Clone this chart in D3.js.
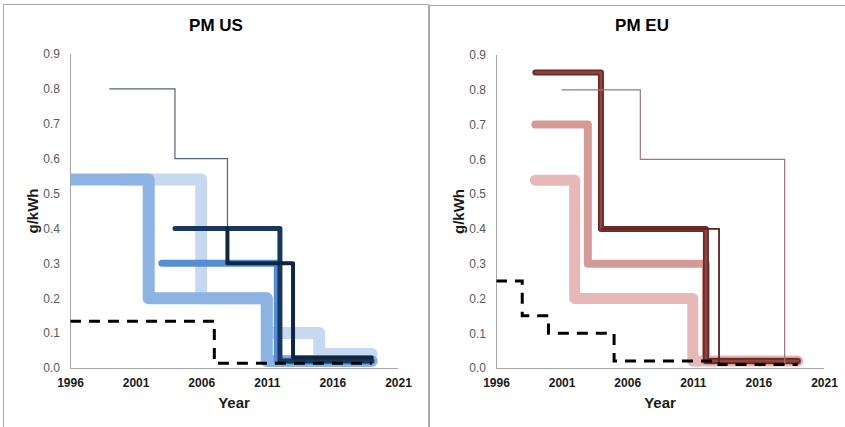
<!DOCTYPE html>
<html><head><meta charset="utf-8">
<script src="https://cdn.jsdelivr.net/npm/d3@7"></script>
<style>
html,body{margin:0;padding:0;background:#fff;}
svg{display:block;font-family:"Liberation Sans",Arial,sans-serif;}
</style></head>
<body>
<svg id="chart" width="845" height="427"></svg>
<script>
// ---- data ----
const titles = ["PM US", "PM EU"];
const yTicks = [0, 0.1, 0.2, 0.3, 0.4, 0.5, 0.6, 0.7, 0.8, 0.9];
const xTicks = [1996, 2001, 2006, 2011, 2016, 2021];
const yLabel = "g/kWh";
const xLabel = "Year";

// US series: [year, g/kWh] step points
const usLightest = [[2000,0.54],[2006,0.54],[2006,0.2],[2011,0.2],[2011,0.1],[2015,0.1],[2015,0.04],[2019,0.04]];
const usLight    = [[1996,0.54],[2002,0.54],[2002,0.2],[2011,0.2],[2011,0.02],[2019,0.02]];
const usMedium   = [[2003,0.3],[2011.8,0.3],[2011.8,0.02],[2019,0.02]];
const usThin     = [[1999,0.8],[2004,0.8],[2004,0.6],[2008,0.6],[2008,0.4]];
const usDarkA    = [[2004,0.4],[2012,0.4],[2012,0.02],[2019,0.02]];
const usDarkB    = [[2008,0.4],[2008,0.3],[2013,0.3],[2013,0.03],[2019,0.03]];
const usDashed   = [[1996,0.134],[2007,0.134],[2007,0.0134],[2019,0.0134]];

// EU series
const euLight    = [[1999,0.54],[2002,0.54],[2002,0.2],[2011,0.2],[2011,0.02],[2019,0.02]];
const euMedium   = [[1999,0.7],[2003,0.7],[2003,0.3],[2012,0.3],[2012,0.02],[2019,0.02]];
const euDark     = [[1999,0.85],[2004,0.85],[2004,0.4],[2012,0.4],[2012,0.02],[2019,0.02]];
const euThin     = [[2001,0.8],[2007,0.8],[2007,0.6],[2018,0.6],[2018,0.01]];
const euThinDark = [[2004,0.4],[2013,0.4],[2013,0.01]];
const euDashed   = [[1996,0.25],[1998,0.25],[1998,0.15],[2000,0.15],[2000,0.1],[2005,0.1],[2005,0.02],[2013,0.02],[2013,0.01],[2019,0.01]];

// ---- styles ----
const panels = [
  {ox:0, frame:{x:3.5,y:4.5,w:425,h:430}, top:54, series:[
    {d:usLightest, c:"#c6d9f1", w:12},
    {d:usLight,    c:"#8db3e2", w:12},
    {d:usMedium,   c:"#558ed5", w:7},
    {d:usThin,     c:"#56647a", w:1.2, cap:"butt", join:"miter"},
    {d:usDarkA,    c:"#17375e", w:5},
    {d:usDarkB,    c:"#10253f", w:4},
    {d:usDashed,   c:"#000000", w:3, dash:"11,8", cap:"butt", join:"miter"}
  ]},
  {ox:426, frame:{x:429.5,y:5.5,w:425,h:430}, top:55, series:[
    {d:euLight,    c:"#e6b9b8", w:11},
    {d:euMedium,   c:"#d49a97", w:8},
    {d:euDark,     c:"#6b2a27", w:6},
    {d:euDark,     c:"#8e4541", w:2.5},
    {d:euThin,     c:"#a07473", w:1.2, cap:"butt", join:"miter"},
    {d:euThinDark, c:"#5c2220", w:1.8, cap:"butt", join:"miter"},
    {d:euDashed,   c:"#000000", w:3, dash:"11,8", cap:"butt", join:"miter"}
  ]}
];

const svg = d3.select("#chart");

panels.forEach((p, i) => {
  const left = 70 + p.ox, right = 398 + p.ox, bottom = 368, top = p.top;
  const g = svg.append("g");

  g.append("rect").attr("x", p.frame.x).attr("y", p.frame.y)
    .attr("width", p.frame.w).attr("height", p.frame.h)
    .attr("fill", "none").attr("stroke", "#a9a9a9").attr("stroke-width", 1);

  const x = d3.scaleLinear().domain([xTicks[0], xTicks[xTicks.length-1]]).range([left, right]);
  const y = d3.scaleLinear().domain([0, 0.9]).range([bottom, top]);

  // title
  g.append("text").attr("x", (p.frame.x + p.frame.x + 425) / 2).attr("y", 31)
    .attr("text-anchor", "middle").attr("font-size", 17).attr("font-weight", "bold")
    .attr("fill", "#000").text(titles[i]);

  // axes
  const yAxis = d3.axisLeft(y).tickValues(yTicks).tickFormat(d3.format(".1f")).tickSize(0).tickPadding(10);
  const ya = g.append("g").attr("transform", `translate(${left},0)`).call(yAxis);
  ya.select(".domain").attr("stroke", "#a6a6a6").attr("d", `M0.5,${top}V${bottom}`);
  ya.selectAll("text").attr("font-size", 12).attr("fill", "#595959")
    .attr("font-family", "Liberation Sans, Arial, sans-serif");

  const xAxis = d3.axisBottom(x).tickValues(xTicks).tickFormat(d3.format("d")).tickSize(0).tickPadding(10);
  const xa = g.append("g").attr("transform", `translate(0,${bottom})`).call(xAxis);
  xa.select(".domain").attr("stroke", "#a6a6a6").attr("d", `M${left},0.5H${right}`);
  xa.selectAll("text").attr("font-size", 12).attr("font-weight", "bold").attr("fill", "#1a1a1a")
    .attr("font-family", "Liberation Sans, Arial, sans-serif");

  // axis titles
  g.append("text").attr("x", (left + right) / 2).attr("y", 408)
    .attr("text-anchor", "middle").attr("font-size", 15).attr("font-weight", "bold")
    .attr("fill", "#1a1a1a").text(xLabel);
  g.append("text").attr("transform", `translate(${32 + p.ox},${(top + bottom) / 2}) rotate(-90)`)
    .attr("text-anchor", "middle").attr("dominant-baseline", "central")
    .attr("font-size", 15).attr("font-weight", "bold").attr("fill", "#1a1a1a").text(yLabel);

  // clip
  const cid = "clip" + i;
  svg.append("clipPath").attr("id", cid).append("rect")
    .attr("x", left + 0.5).attr("y", top - 20).attr("width", right - left + 10).attr("height", bottom - top + 20);

  const line = d3.line().x(d => x(d[0])).y(d => y(d[1]));
  const lg = g.append("g").attr("clip-path", `url(#${cid})`);
  p.series.forEach(s => {
    lg.append("path").attr("d", line(s.d)).attr("fill", "none")
      .attr("stroke", s.c).attr("stroke-width", s.w)
      .attr("stroke-linecap", s.cap || "round").attr("stroke-linejoin", s.join || "round")
      .attr("stroke-dasharray", s.dash || null);
  });
});
</script>
</body></html>
